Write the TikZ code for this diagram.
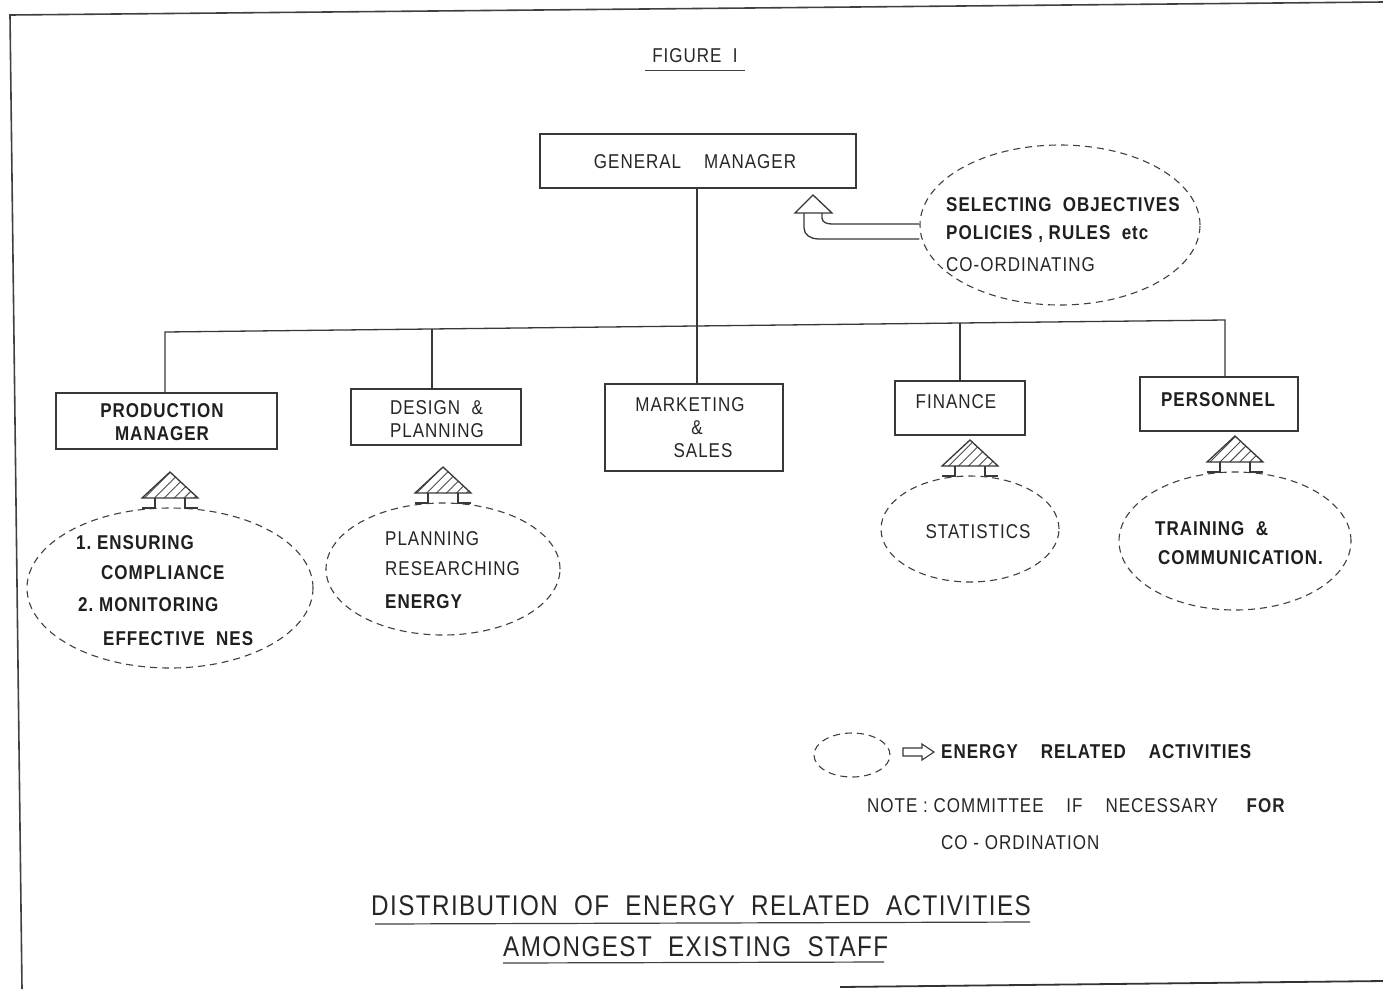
\documentclass[tikz,border=0pt]{standalone}
\usepackage{fontspec}
\setmainfont{Liberation Sans}
\newfontfamily\tw[FakeStretch=0.85,LetterSpace=5]{Liberation Sans}
\newfontfamily\twt[FakeStretch=0.85,LetterSpace=5]{Liberation Sans}
\usetikzlibrary{patterns.meta,shapes.geometric}
\begin{document}
\begin{tikzpicture}[x=1pt,y=-1pt,
 ink/.style={draw=black!78,line width=1.3pt},
 box/.style={ink,rectangle,inner sep=0pt},
 bub/.style={draw=black!75,ellipse,inner sep=0pt,line width=1.1pt,dash pattern=on 7pt off 5pt},
 txt/.style={inner sep=0pt,text=black!85,font=\tw\fontsize{20}{23}\selectfont},
 btxt/.style={inner sep=0pt,text=black!88,font=\tw\bfseries\fontsize{20}{23}\selectfont},
 ttl/.style={inner sep=0pt,text=black!85,font=\twt\fontsize{28.5}{32}\selectfont},
 hatcharrow/.pic={
  \draw[black!78,line width=1.3pt,pattern={Lines[angle=45,distance=7pt,line width=0.9pt]},pattern color=black!70] (0,0) -- (28,26) -- (-28,26) -- cycle;
  \draw[black!78,line width=1.3pt] (-15,26) -- (-15,36) -- (-28,36) (15,26) -- (15,36) -- (28,36);
 }]
\useasboundingbox[fill=white] (0,0) rectangle (1383,989);
% page border
\draw[black!75,line width=1.6pt] (1383,2) -- (10,15) -- (22,989);
\draw[black!80,line width=1.8pt] (840,987) -- (1383,981);

% title
\node[txt] (fig) at (695,56) {FIGURE~~I};
\draw[black!75,line width=1pt] (645,70) -- (745,70);

% boxes
\node[box,minimum width=316pt,minimum height=54pt] (gm) at (698,161) {};
\node[txt] (gmt) at (695,162) {GENERAL~~~~MANAGER};
\node[box,minimum width=221pt,minimum height=56pt] (prod) at (166.5,421) {};
\node[btxt,align=center] (prodt) at (162,422) {PRODUCTION\\MANAGER};
\node[box,minimum width=170pt,minimum height=56pt] (des) at (436,417) {};
\node[txt,align=left] (dest) at (437,419) {DESIGN~~\&\\PLANNING};
\node[box,minimum width=178pt,minimum height=87pt] (mkt) at (694,427.5) {};
\node[txt,align=center] (mktt) at (690,405) {MARKETING};
\node[txt] (mkta) at (697,428) {\&};
\node[txt] (mkts) at (703,451) {SALES};
\node[box,minimum width=130pt,minimum height=54pt] (fin) at (960,408) {};
\node[txt] (fint) at (956,402) {FINANCE};
\node[box,minimum width=158pt,minimum height=54pt] (pers) at (1219,404) {};
\node[btxt] (perst) at (1218,400) {PERSONNEL};

% tree connectors
\coordinate (j0) at (697,326);
\coordinate (jl) at (165,332);
\coordinate (jr) at (1225,320);
\draw[ink] (gm.south -| j0) -- (j0);
\draw[ink] (prod.north -| jl) -- (jl) -- (jr) -- (pers.north -| jr);
\draw[ink] (432,329) -- (des.north -| 432,0);
\draw[ink] (j0) -- (mkt.north -| j0);
\draw[ink] (960,323) -- (fin.north -| 960,0);

% activity bubbles
\node[bub,minimum width=286pt,minimum height=160pt] (ep) at (170,588) {};
\node[bub,minimum width=234pt,minimum height=132pt] (ed) at (443,569) {};
\node[bub,minimum width=178pt,minimum height=106pt] (ef) at (970,529) {};
\node[bub,minimum width=232pt,minimum height=138pt] (epe) at (1235,541) {};
\node[bub,minimum width=280pt,minimum height=160pt] (eg) at (1060,225) {};

% hatched arrows
\pic at (170,472) {hatcharrow};
\pic at (443,467) {hatcharrow};
\pic at (970,440) {hatcharrow};
\pic at (1235,436) {hatcharrow};

% hollow arrow to general manager
\coordinate (ga) at (813,195);
\draw[ink,fill=white] (ga) -- (832,213) -- (795,213) -- cycle;
\draw[ink] (822,213) -- (822,218) to[out=-90,in=180] (832,224) -- (eg.west |- 0,224);
\draw[ink] (804,213) -- (804,228) to[out=-90,in=180] (818,239) -- (eg.west |- 0,239);

% bubble texts
\node[btxt,anchor=west] (g1) at (946,205) {SELECTING~~OBJECTIVES};
\node[btxt,anchor=west] (g2) at (946,234) {POLICIES , RULES~~etc};
\node[txt,anchor=west] (g3) at (946,265) {CO-ORDINATING};

\node[btxt,anchor=west] (p1) at (76,543) {1.~ENSURING};
\node[btxt,anchor=west] (p2) at (101,573) {COMPLIANCE};
\node[btxt,anchor=west] (p3) at (78,605) {2.~MONITORING};
\node[btxt,anchor=west] (p4) at (103,639) {EFFECTIVE~~NES};

\node[txt,anchor=west] (d1) at (385,539) {PLANNING};
\node[txt,anchor=west] (d2) at (385,569) {RESEARCHING};
\node[btxt,anchor=west] (d3) at (385,602) {ENERGY};

\node[txt] (f1) at (978,532) {STATISTICS};

\node[btxt,anchor=west] (pe1) at (1155,529) {TRAINING~~\&};
\node[btxt,anchor=west] (pe2) at (1158,558) {COMMUNICATION.};

% legend
\node[bub,minimum width=76pt,minimum height=44pt] (leg) at (852,755) {};
\coordinate (la) at (903,752);
\draw[ink,line width=1.1pt] (la) ++(0,-4) -- ++(19,0) -- ++(0,-4) -- ++(12,8) -- ++(-12,8) -- ++(0,-4) -- ++(-19,0) -- cycle;
\node[btxt,anchor=west] (legt) at (941,752) {ENERGY~~~~RELATED~~~~ACTIVITIES};
\node[txt,anchor=west] (n1) at (867,806) {NOTE~:~COMMITTEE~~~~IF~~~~NECESSARY~~~~~\textbf{FOR}};
\node[txt,anchor=west] (n2) at (941,843) {CO~-~ORDINATION};

% caption
\node[ttl,anchor=west] (c1) at (371,906) {DISTRIBUTION~~OF~~ENERGY~~RELATED~~ACTIVITIES};
\draw[black!75,line width=1.2pt] (375,924) -- (1030,922);
\node[ttl,anchor=west] (c2) at (503,947) {AMONGEST~~EXISTING~~STAFF};
\draw[black!75,line width=1.2pt] (503,963) -- (884,962);
\end{tikzpicture}
\end{document}
